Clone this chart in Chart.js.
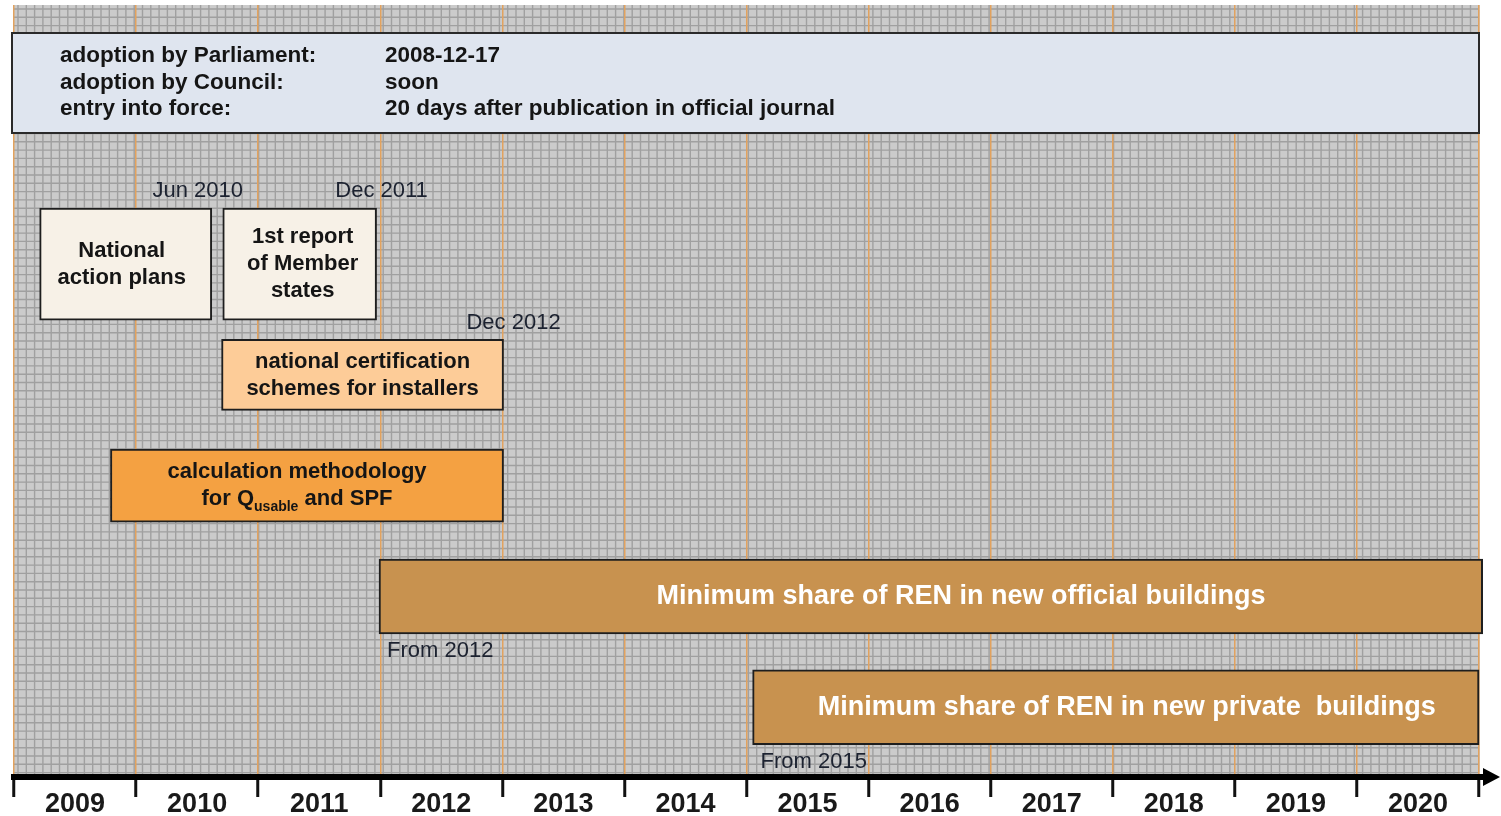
<!DOCTYPE html>
<html>
<head>
<meta charset="utf-8">
<title>RES directive timeline</title>
<script src="https://cdn.jsdelivr.net/npm/chart.js@4.4.0/dist/chart.umd.min.js"></script>
<style>
  body { margin: 0; background: #fff; }
  canvas { display: block; }
</style>
</head>
<body>
<canvas id="timeline" width="1501" height="816"></canvas>
<script>
// data
var years = ['2009', '2010', '2011', '2012', '2013', '2014', '2015', '2016', '2017', '2018', '2019', '2020'];

var taskNames = [
  'National\naction plans',
  '1st report\nof Member\nstates',
  'national certification\nschemes for installers',
  'calculation methodology\nfor Q_{usable} and SPF',
  'Minimum share of REN in new official buildings',
  'Minimum share of REN in new private  buildings'
];
var taskStart = [2009.21, 2010.71, 2010.70, 2009.79, 2011.99, 2015.05];
var taskEnd   = [2010.62, 2011.97, 2013.01, 2013.01, 2021.03, 2021.00];
var taskRow   = [0, 0, 1, 2, 3, 4];
var endLabels   = ['Jun 2010', 'Dec 2011', 'Dec 2012', '', '', ''];
var startLabels = ['', '', '', '', 'From 2012', 'From 2015'];

var infoLabels = ['adoption by Parliament:', 'adoption by Council:', 'entry into force:'];
var infoValues = ['2008-12-17', 'soon', '20 days after publication in official journal'];

// styles
var FONT = "'Liberation Sans', Arial, sans-serif";
var boxColors  = ['#f7f1e7', '#f7f1e7', '#fdcc98', '#f4a142', '#c8924f', '#c8924f'];
var boxHeights = [112, 112, 71, 73, 75, 75];
var textColors = ['#151515', '#151515', '#151515', '#151515', '#ffffff', '#ffffff'];
var textSizes  = [22, 22, 22, 22, 27, 27];
var textShift  = [-4, 3, 0, -10, 32, 11];   // text is not quite centred in the boxes
var dateShift  = [-14, 5, 10, 0, 0, 0];

function drawRichLine(ctx, line, cx, cy, size) {
  // parts with odd index are subscripts
  var parts = line.split(/_\{([^}]*)\}/);
  var sub = Math.round(size * 0.62);
  var w = 0, i;
  for (i = 0; i < parts.length; i++) {
    ctx.font = 'bold ' + (i % 2 ? sub : size) + 'px ' + FONT;
    w += ctx.measureText(parts[i]).width;
  }
  var x = cx - w / 2;
  ctx.textAlign = 'left';
  for (i = 0; i < parts.length; i++) {
    ctx.font = 'bold ' + (i % 2 ? sub : size) + 'px ' + FONT;
    ctx.fillText(parts[i], x, i % 2 ? cy + size * 0.38 : cy);
    x += ctx.measureText(parts[i]).width;
  }
}

var paperGrid = {
  id: 'paperGrid',
  beforeDraw: function(chart) {
    var ctx = chart.ctx, a = chart.chartArea;
    ctx.save();
    ctx.fillStyle = '#cbcbcb';
    ctx.fillRect(a.left, a.top, a.right - a.left, a.bottom - a.top);
    ctx.strokeStyle = '#a0a0a0';
    ctx.lineWidth = 1.4;
    ctx.beginPath();
    for (var x = a.left + 4; x < a.right; x += 8.3) {
      ctx.moveTo(x, a.top);
      ctx.lineTo(x, a.bottom);
    }
    for (var y = a.top + 4; y < a.bottom; y += 8.3) {
      ctx.moveTo(a.left, y);
      ctx.lineTo(a.right, y);
    }
    ctx.stroke();
    ctx.restore();
  }
};

var infoPanel = {
  id: 'infoPanel',
  beforeDatasetsDraw: function(chart) {
    var ctx = chart.ctx, xs = chart.scales.x;
    var left = xs.getPixelForValue(2009) - 2, right = xs.getPixelForValue(2021);
    ctx.save();
    ctx.fillStyle = '#dfe5ef';
    ctx.fillRect(left, 33, right - left, 100);
    ctx.strokeStyle = '#2a2a2a';
    ctx.lineWidth = 2;
    ctx.strokeRect(left, 33, right - left, 100);
    ctx.fillStyle = '#151515';
    ctx.font = 'bold 22.5px ' + FONT;
    ctx.textBaseline = 'middle';
    ctx.textAlign = 'left';
    for (var i = 0; i < infoLabels.length; i++) {
      ctx.fillText(infoLabels[i], 60, 56 + i * 26.5);
      ctx.fillText(infoValues[i], 385, 56 + i * 26.5);
    }
    ctx.restore();
  }
};

var boxText = {
  id: 'boxText',
  afterDatasetsDraw: function(chart) {
    var ctx = chart.ctx;
    ctx.save();
    ctx.textBaseline = 'middle';
    chart.data.datasets.forEach(function(ds, i) {
      var bar = chart.getDatasetMeta(i).data[0];
      var p = bar.getProps(['x', 'y', 'base', 'height'], true);
      var left = Math.min(p.x, p.base), right = Math.max(p.x, p.base);
      var top = p.y - p.height / 2, bottom = p.y + p.height / 2;
      var cx = (Math.max(left, chart.chartArea.left) + Math.min(right, chart.chartArea.right)) / 2 + textShift[i];
      var lines = taskNames[i].split('\n');
      var lh = textSizes[i] + 5;
      ctx.fillStyle = textColors[i];
      lines.forEach(function(line, k) {
        drawRichLine(ctx, line, cx, p.y + (k - (lines.length - 1) / 2) * lh, textSizes[i]);
      });
      ctx.font = '22px ' + FONT;
      ctx.fillStyle = '#1c2230';
      if (endLabels[i]) {
        ctx.textAlign = 'center';
        ctx.fillText(endLabels[i], right + dateShift[i], top - 17);
      }
      if (startLabels[i]) {
        ctx.textAlign = 'left';
        ctx.fillText(startLabels[i], left + 8, bottom + 17);
      }
    });
    ctx.restore();
  },
  afterDraw: function(chart) {
    // arrow head at the end of the time axis
    var ctx = chart.ctx, a = chart.chartArea;
    ctx.save();
    ctx.fillStyle = '#000';
    ctx.fillRect(a.right - 1, a.bottom - 3, 8, 6);
    ctx.beginPath();
    ctx.moveTo(a.right + 4, a.bottom - 9);
    ctx.lineTo(a.right + 21, a.bottom);
    ctx.lineTo(a.right + 4, a.bottom + 9);
    ctx.closePath();
    ctx.fill();
    ctx.restore();
  }
};

var datasets = taskNames.map(function(name, i) {
  return {
    label: name,
    data: [{ x: [taskStart[i], taskEnd[i]], y: taskRow[i] }],
    backgroundColor: boxColors[i],
    borderColor: '#1e1e1e',
    borderWidth: 2,
    borderSkipped: false,
    barThickness: boxHeights[i],
    grouped: false,
    clip: false
  };
});

var config = {
  type: 'bar',
  data: { datasets: datasets },
  options: {
    indexAxis: 'y',
    responsive: false,
    animation: false,
    devicePixelRatio: 1,
    layout: { padding: { top: 5, left: 14, right: 22, bottom: 4 } },
    plugins: {
      legend: { display: false },
      tooltip: { enabled: false }
    },
    scales: {
      x: { type: 'linear', min: 2009, max: 2021, display: false },
      y: { type: 'linear', min: -2.34, max: 4.63, reverse: true, offset: false, display: false },
      years: {
        type: 'category',
        labels: years,
        position: 'bottom',
        offset: true,
        grid: {
          offset: true,
          color: '#e2a25e',
          lineWidth: 1.5,
          tickColor: '#111',
          tickWidth: 3,
          tickLength: 20
        },
        border: { display: true, color: '#000', width: 6 },
        ticks: {
          color: '#1a1a1a',
          padding: -6,
          autoSkip: false,
          maxRotation: 0,
          font: { family: FONT, size: 27, weight: 'bold', lineHeight: 1.0 }
        }
      }
    }
  },
  plugins: [paperGrid, infoPanel, boxText]
};

var ctx = document.getElementById('timeline').getContext('2d');
window.timeline = new Chart(ctx, config);
</script>
</body>
</html>
